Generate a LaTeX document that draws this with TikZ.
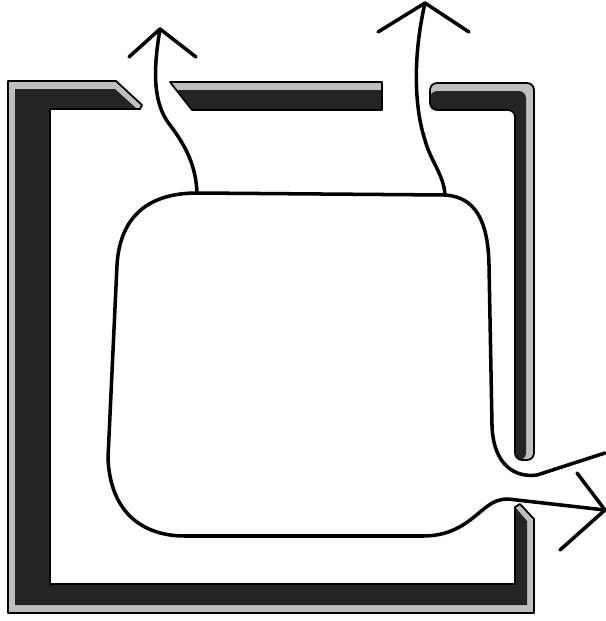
\documentclass[tikz,border=0pt]{standalone}
\usepackage{tikz}

\begin{document}
\begin{tikzpicture}[x=0.01cm,y=-0.01cm,
    rim/.style={fill=black!25},
    core/.style={fill=black!86},
    edge/.style={draw=black, line width=0.5pt, line join=round},
    flow/.style={line width=1pt, line join=round, line cap=round}]
\useasboundingbox (0,0) rectangle (605,621);

% wall: top left, left, bottom and lower right
\fill[rim] (8,81) -- (116,81) -- (142,105) -- (140,109) -- (50,109) -- (50,584) -- (515,584) -- (515,507) -- (520,504) -- (534,519) -- (534,613) -- (8,613) -- cycle;
\fill[core] (15,89) -- (115,89) -- (137,109) -- (50,109) -- (50,584) -- (515,584) -- (515,507) -- (527,521) -- (527,605) -- (15,605) -- cycle;
\draw[edge] (8,81) -- (116,81) -- (142,105) -- (140,109) -- (50,109) -- (50,584) -- (515,584) -- (515,507) -- (520,504) -- (534,519) -- (534,613) -- (8,613) -- cycle;

% wall: top middle
\fill[rim] (170,82) -- (382,82) -- (382,110) -- (192,110) -- cycle;
\fill[core] (176,90) -- (382,90) -- (382,110) -- (192,110) -- cycle;
\draw[edge] (170,82) -- (382,82) -- (382,110) -- (192,110) -- cycle;

% wall: top right and upper right
\fill[rim, rounded corners=2pt] (430,83) -- (534,83) -- (534,460) -- (515,460) -- (515,110) -- (430,110) -- cycle;
\fill[core, rounded corners=2pt] (430,91) -- (526,91) -- (526,460) -- (515,460) -- (515,110) -- (430,110) -- cycle;
\draw[edge, rounded corners=2pt] (430,83) -- (534,83) -- (534,460) -- (515,460) -- (515,110) -- (430,110) -- cycle;

% arrow tips
\coordinate (tipL) at (160,29);
\coordinate (tipR) at (425,3);
\coordinate (tipO) at (605,510);
\coordinate (cornL) at (197,193);
\coordinate (cornR) at (445,195);

% stems and top edge
\draw[flow] (tipL) .. controls (155,60) and (150,100) .. (170,125)
    .. controls (185,145) and (196,165) .. (cornL) -- (cornR)
    .. controls (444,175) and (430,160) .. (425,140)
    .. controls (415,110) and (412,60) .. (tipR);

% left side, bottom and lower outlet
\draw[flow] (cornL) .. controls (150,193) and (120,215) .. (117,265)
    -- (108,458) .. controls (110,510) and (140,536) .. (185,536)
    -- (423,536) .. controls (455,536) and (470,520) .. (485,508)
    .. controls (494,501) and (500,499) .. (508,499) -- (tipO);

% right side and upper outlet
\draw[flow] (cornR) .. controls (475,197) and (488,220) .. (489,265)
    -- (492,425) .. controls (493,465) and (515,478) .. (537,475) -- (605,453);

% arrow heads
\draw[flow] (129,57) -- (tipL) -- (196,57);
\draw[flow] (378,32) -- (tipR) -- (469,32);
\draw[flow] (577,473) -- (tipO) -- (560,550);
\end{tikzpicture}
\end{document}
